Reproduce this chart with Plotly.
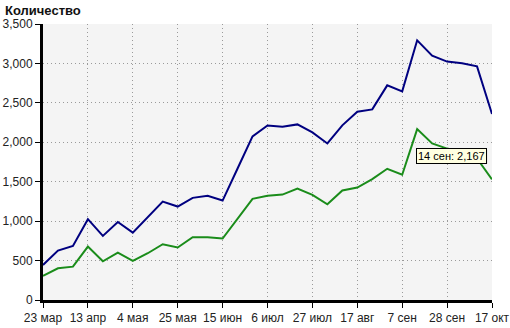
import plotly.graph_objects as go

dates = ["23 мар", "30 мар", "6 апр", "13 апр", "20 апр", "27 апр", "4 мая", "11 мая",
         "18 мая", "25 мая", "1 июн", "8 июн", "15 июн", "22 июн", "29 июн", "6 июл",
         "13 июл", "20 июл", "27 июл", "3 авг", "10 авг", "17 авг", "24 авг", "31 авг",
         "7 сен", "14 сен", "21 сен", "28 сен", "5 окт", "12 окт", "17 окт"]

blue_vals = [445, 626, 686, 1025, 813, 990, 855, 1055, 1248, 1185, 1295, 1321, 1261,
             1668, 2074, 2214, 2197, 2227, 2125, 1985, 2215, 2388, 2417, 2722, 2646,
             3293, 3099, 3023, 3001, 2963, 2358]

green_vals = [305, 402, 423, 677, 491, 601, 495, 593, 707, 666, 796, 796, 779,
              1038, 1283, 1321, 1337, 1414, 1334, 1213, 1388, 1426, 1533, 1664, 1588,
              2167, 1985, 1920, 1875, 1795, 1530]

tick_labels = ["23 мар", "13 апр", "4 мая", "25 мая", "15 июн", "6 июл", "27 июл",
               "17 авг", "7 сен", "28 сен", "17 окт"]
y_ticks = [0, 500, 1000, 1500, 2000, 2500, 3000, 3500]

tip_index = 25
tip_text = "14 сен: 2,167"

font_family = "Liberation Sans, Arial, sans-serif"

fig = go.Figure()
fig.add_trace(go.Scatter(x=dates, y=blue_vals, mode="lines",
                         line=dict(color="#000080", width=2), hoverinfo="skip"))
fig.add_trace(go.Scatter(x=dates, y=green_vals, mode="lines",
                         line=dict(color="#1A8C1A", width=2), hoverinfo="skip"))

fig.update_layout(
    width=510, height=328,
    margin=dict(l=43, r=18, t=24, b=28, autoexpand=False),
    paper_bgcolor="white",
    plot_bgcolor="#F4F4F4",
    showlegend=False,
    font=dict(family=font_family, size=12, color="#222222"),
)

fig.update_xaxes(
    type="category",
    range=[0, len(dates) - 1],
    tickmode="array",
    tickvals=tick_labels,
    ticktext=tick_labels,
    showgrid=True, gridcolor="#9A9A9A", gridwidth=1, griddash="1px,3px",
    showline=True, linecolor="black", linewidth=3,
    ticks="outside", ticklen=5, tickcolor="black", tickwidth=1,
    tickfont=dict(size=12, color="#222222"),
    zeroline=False, automargin=False,
)
fig.update_yaxes(
    range=[0, 3500],
    tickmode="array",
    tickvals=y_ticks,
    ticktext=[f"{v:,}" for v in y_ticks],
    showgrid=True, gridcolor="#9A9A9A", gridwidth=1, griddash="1px,3px",
    showline=True, linecolor="black", linewidth=3,
    ticks="outside", ticklen=5, tickcolor="black", tickwidth=1,
    tickfont=dict(size=12, color="#222222"),
    zeroline=False, automargin=False,
)

# Title
fig.add_annotation(text="<b>Количество</b>", xref="paper", yref="paper",
                   x=-40/449, y=1, yshift=23, xanchor="left", yanchor="top",
                   showarrow=False, font=dict(size=13, color="#111111", family=font_family))

# Tooltip shadow (pixel-sized shape anchored to the data point)
fig.add_shape(type="rect", xref="x", yref="y",
              xsizemode="pixel", ysizemode="pixel",
              xanchor=dates[tip_index], yanchor=green_vals[tip_index],
              x0=2, x1=70, y0=-35, y1=-21,
              fillcolor="#B0B0B0", line=dict(width=0), layer="above")
# Tooltip
fig.add_annotation(x=dates[tip_index], y=green_vals[tip_index], text=tip_text,
                   xanchor="left", yanchor="top", showarrow=False,
                   xshift=-1, yshift=-19,
                   bgcolor="#FFFFE1", bordercolor="black", borderwidth=1, borderpad=1,
                   font=dict(size=11, color="black", family=font_family))

fig.write_html("out.html")
